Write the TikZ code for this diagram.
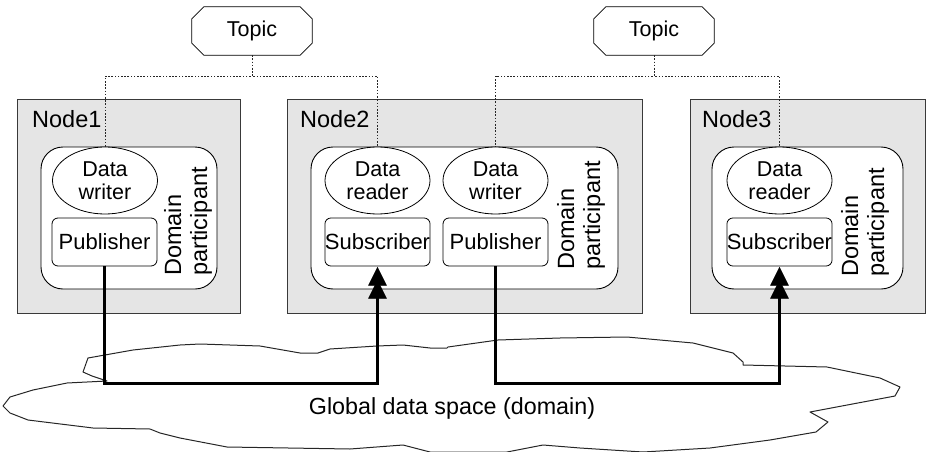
\documentclass[tikz,border=0pt]{standalone}
\usepackage{fontspec}
\setmainfont{Liberation Sans}
\usetikzlibrary{shapes.geometric,arrows.meta}
\begin{document}
\begin{tikzpicture}[x=1pt,y=-1pt,
  nodebox/.style={draw=gray!45!black, fill=gray!20, line width=0.9pt, minimum height=214pt, inner sep=0pt},
  dpbox/.style={draw=black, fill=white, line width=0.9pt, rounded corners=22pt, minimum height=142pt, inner sep=0pt},
  ent/.style={ellipse, draw=black, fill=white, line width=0.8pt, minimum width=105pt, minimum height=67pt, inner sep=0pt, align=center, font=\fontsize{21.5}{23}\selectfont},
  ps/.style={draw=black, fill=white, line width=0.8pt, rounded corners=6pt, minimum width=105pt, minimum height=48pt, inner sep=0pt, font=\fontsize{22}{24}\selectfont},
  topic/.style={rectangle, minimum width=120pt, minimum height=48pt, inner sep=0pt, font=\fontsize{21.5}{24}\selectfont},
  topicline/.style={draw=black, fill=white, line width=0.8pt},
  nlabel/.style={anchor=base west, inner sep=0pt, font=\fontsize{23.5}{26}\selectfont},
  dptext/.style={rotate=90, align=left, inner sep=0pt, font=\fontsize{23.5}{26}\selectfont},
  dotline/.style={draw=gray!30!black, line width=1pt, dash pattern=on 1.6pt off 1.6pt},
  flow/.style={draw=black, line width=3pt, line join=miter},
  tipfill/.style={fill=black, draw=black, line width=0.5pt, line join=miter},
  cloud/.style={draw=black!85, line width=1pt, line join=round}
]
\useasboundingbox (0,0) rectangle (926,452);

% cloud
\draw[cloud] (88,358) -- (133,350) -- (180,345) -- (200,344) -- (260,346) -- (300,353) -- (318,353) -- (330,349) -- (377,346) -- (403,345) -- (430,348) -- (447,348) -- (448,347) -- (498,340) -- (560,338) -- (627,337) -- (693,343) -- (733,353) -- (743,362) -- (743,365) -- (827,367) -- (880,378) -- (900,387) -- (895,396) -- (810,412) -- (828,422) -- (816,432) -- (770,440) -- (710,448) -- (643,452) -- (580,448) -- (543,445) -- (507,452) -- (430,452) -- (403,445) -- (350,449) -- (227,447) -- (180,438) -- (160,433) -- (150,429) -- (93,428) -- (28,420) -- (10,413) -- (3,406) -- (10,397) -- (33,390) -- (67,383) -- (107,381) -- (92,376) -- (83,372) -- cycle;
\node[inner sep=0pt, font=\fontsize{23.3}{26}\selectfont] (gds) at (452,408) {Global data space (domain)};

% computer nodes
\node[nodebox, minimum width=223pt] (n1) at (128.5,206) {};
\node[nodebox, minimum width=355pt] (n2) at (464.5,206) {};
\node[nodebox, minimum width=235pt] (n3) at (807.5,206) {};
\node[nlabel] (l1) at (32,127) {Node1};
\node[nlabel] (l2) at (300,127) {Node2};
\node[nlabel] (l3) at (702,127) {Node3};

% domain participants
\node[dpbox, minimum width=176pt] (dp1) at (129,218) {};
\node[dpbox, minimum width=307pt] (dp2) at (464.5,218) {};
\node[dpbox, minimum width=191pt] (dp3) at (807.5,218) {};
\node[dptext] (dt1) at (188,221.5) {Domain\\participant};
\node[dptext] (dt2) at (581,215.5) {Domain\\participant};
\node[dptext] (dt3) at (865,222.5) {Domain\\participant};

% entities
\node[ent] (dw1) at (105,180.5) {Data\\writer};
\node[ent] (dr2) at (377.5,180.5) {Data\\reader};
\node[ent] (dw2) at (495.5,180.5) {Data\\writer};
\node[ent] (dr3) at (779.5,180.5) {Data\\reader};
\node[ps] (pub1) at (104.5,242) {Publisher};
\node[ps] (sub2) at (377.5,242) {Subscriber};
\node[ps] (pub2) at (495.5,242) {Publisher};
\node[ps] (sub3) at (779.5,242) {Subscriber};

% topics (chamfered outline drawn from the node's corners)
\node[topic] (t1) at (252,31) {};
\node[topic] (t2) at (654,31) {};
\foreach \t in {t1,t2}{
  \draw[topicline] ([xshift=12pt]\t.north west) -- ([xshift=-12pt]\t.north east)
    -- ([yshift=-12pt]\t.north east) -- ([yshift=12pt]\t.south east)
    -- ([xshift=-12pt]\t.south east) -- ([xshift=12pt]\t.south west)
    -- ([yshift=12pt]\t.south west) -- ([yshift=-12pt]\t.north west) -- cycle;
}
\node[topic] at (t1) {Topic};
\node[topic] at (t2) {Topic};

% topic links
\draw[dotline] (t1.south) -- ++(0,21) -| (dw1.north);
\draw[dotline] (t1.south) -- ++(0,21) -| (dr2.north);
\draw[dotline] (t2.south) -- ++(0,21) -| (dw2.north);
\draw[dotline] (t2.south) -- ++(0,21) -| (dr3.north);

% data flow with double arrowheads
\draw[flow] (pub1.south) -- ++(0,117) -| ([yshift=-10pt]sub2.south);
\draw[flow] (pub2.south) -- ++(0,117) -| ([yshift=-10pt]sub3.south);
\foreach \s in {sub2,sub3}{
  \fill[tipfill] ([yshift=-1pt]\s.south) -- ++(-9,18) -- ++(18,0) -- cycle;
  \fill[tipfill] ([yshift=-14pt]\s.south) -- ++(-9,18) -- ++(18,0) -- cycle;
}
\end{tikzpicture}
\end{document}
